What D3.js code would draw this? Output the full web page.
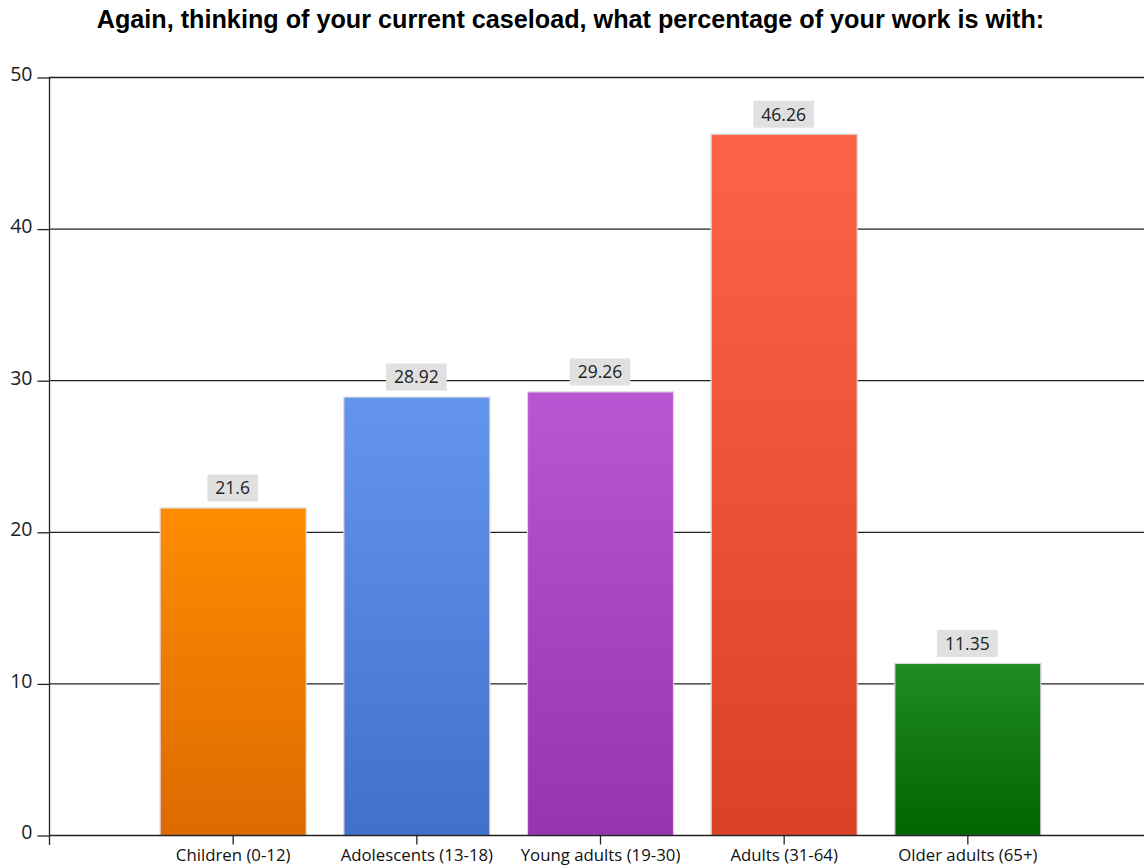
<!DOCTYPE html>
<html>
<head>
<meta charset="utf-8">
<script src="https://cdn.jsdelivr.net/npm/d3@7"></script>
<style>
  body { margin: 0; background: #fff; }
  svg { display: block; }
</style>
</head>
<body>
<svg id="chart" width="1144" height="867"></svg>
<script>
const categories = ["Children (0-12)", "Adolescents (13-18)", "Young adults (19-30)", "Adults (31-64)", "Older adults (65+)"];
const values = [21.6, 28.92, 29.26, 46.26, 11.35];
const yTicks = [0, 10, 20, 30, 40, 50];
const topColors = ["#FF8C00", "#6495ED", "#BA55D3", "#FF6347", "#228B22"];
const bottomColors = ["#DC6A00", "#4170C9", "#9833AF", "#DB4124", "#006400"];

const svg = d3.select("#chart");
const margin = { left: 49, right: 1151, top: 77, bottom: 835 };

const x = d3.scalePoint().domain(categories).range([margin.left, margin.right]).padding(1);
const y = d3.scaleLinear().domain([0, 50]).range([margin.bottom, margin.top]);
const barW = 146;
const labelFont = "Open Sans, sans-serif";

// Gradients for each bar
const defs = svg.append("defs");
categories.forEach((c, i) => {
  const g = defs.append("linearGradient")
    .attr("id", "grad" + i).attr("x1", 0).attr("y1", 0).attr("x2", 0).attr("y2", 1);
  g.append("stop").attr("offset", "0%").attr("stop-color", topColors[i]);
  g.append("stop").attr("offset", "100%").attr("stop-color", bottomColors[i]);
});

// Title
svg.append("text")
  .attr("x", 570.5).attr("y", 28)
  .attr("text-anchor", "middle")
  .attr("font-family", "Liberation Sans, Arial, sans-serif")
  .attr("font-weight", "bold").attr("font-size", 25.2)
  .attr("fill", "#000")
  .text("Again, thinking of your current caseload, what percentage of your work is with:");

// Horizontal grid lines
svg.append("g").selectAll("line").data(yTicks.filter(d => d > 0)).join("line")
  .attr("x1", margin.left).attr("x2", 1144)
  .attr("y1", d => y(d) + 0.5).attr("y2", d => y(d) + 0.5)
  .attr("stroke", "#222").attr("stroke-width", 1.3);

// Y axis
const yAxis = svg.append("g")
  .attr("transform", `translate(${margin.left + 0.5},0)`)
  .call(d3.axisLeft(y).tickValues(yTicks).tickSize(12).tickPadding(5).tickSizeOuter(0));
yAxis.select(".domain").remove();
yAxis.append("line").attr("x1", 0).attr("x2", 0).attr("y1", margin.top).attr("y2", margin.bottom + 10)
  .attr("stroke", "#222").attr("stroke-width", 1.3);
yAxis.selectAll(".tick line").attr("stroke", "#222").attr("stroke-width", 1.3)
  .attr("transform", "translate(0,0.5)");
yAxis.selectAll(".tick text")
  .attr("font-family", labelFont).attr("font-size", 19.5).attr("fill", "#222")
  .attr("dy", "0.2em");

// Bars
svg.append("g").selectAll("rect").data(values).join("rect")
  .attr("x", (d, i) => x(categories[i]) - barW / 2 + 0.5)
  .attr("y", d => y(d) + 0.5)
  .attr("width", barW)
  .attr("height", d => y(0) - y(d))
  .attr("fill", (d, i) => `url(#grad${i})`)
  .attr("stroke", "#d8d8d8").attr("stroke-width", 1.2);

// X axis
const xAxis = svg.append("g")
  .attr("transform", `translate(0,${margin.bottom + 0.5})`)
  .call(d3.axisBottom(x).tickSize(9).tickPadding(5).tickSizeOuter(0));
xAxis.select(".domain").remove();
xAxis.append("line").attr("x1", margin.left).attr("x2", 1144).attr("y1", 0).attr("y2", 0)
  .attr("stroke", "#222").attr("stroke-width", 1.3);
xAxis.selectAll(".tick line").attr("stroke", "#222").attr("stroke-width", 1.3);
xAxis.selectAll(".tick text")
  .attr("font-family", labelFont).attr("font-size", 16.8).attr("fill", "#111");

// Value labels with grey boxes
const labels = svg.append("g").selectAll("g").data(values).join("g")
  .attr("transform", (d, i) => `translate(${x(categories[i])},${y(d) - 19.5})`);
labels.append("text")
  .attr("text-anchor", "middle").attr("dy", "0.36em")
  .attr("font-family", labelFont).attr("font-size", 17.5).attr("fill", "#222")
  .text(d => d);
labels.each(function () {
  const g = d3.select(this);
  const bb = g.select("text").node().getBBox();
  g.insert("rect", "text")
    .attr("x", bb.x - 8).attr("y", -13.5)
    .attr("width", bb.width + 16).attr("height", 27)
    .attr("fill", "#e0e0e0");
});
</script>
</body>
</html>
